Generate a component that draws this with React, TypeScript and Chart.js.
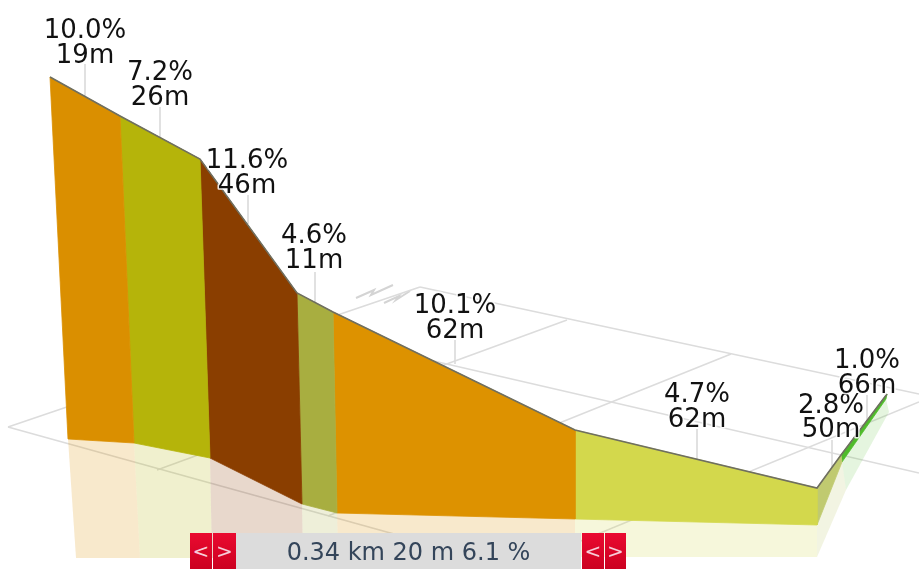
import React, { useEffect, useRef } from 'react';
import { Chart, registerables } from 'chart.js';

Chart.register(...registerables);

const W = 919;
const H = 569;

// Segments of the climb
const grades = ['10.0%', '7.2%', '11.6%', '4.6%', '10.1%', '4.7%', '2.8%', '1.0%'];
const lengths = ['19m', '26m', '46m', '11m', '62m', '62m', '50m', '66m'];
const segColors = ['#DA8F00', '#B5B40A', '#8A3E00', '#A8AE40', '#DD9200', '#D3D84C', '#C0CA70', '#4FBB2B'];
const shadeColors = [
  'rgba(218,143,0,0.2)', 'rgba(181,180,10,0.2)', 'rgba(138,62,0,0.2)', 'rgba(168,174,64,0.2)',
  'rgba(221,146,0,0.2)', 'rgba(211,216,76,0.2)', 'rgba(192,202,112,0.2)', 'rgba(79,187,43,0.15)',
];

// Projected profile (horizontal position, height above the floor of the view)
const topX = [50, 120, 200, 297, 333, 575, 817, 841, 887];
const topH = [492, 453, 410, 276, 257, 139, 81, 114, 175];
const baseX = [68, 134, 210, 302, 337, 575, 817, 842, 886];
const baseH = [130, 126, 111, 65, 56, 50, 44, 107, 170];
// Reflection below the profile
const shadeX = [76, 140, 212, 303, 338, 575, 817, 846, 889];
const shadeH = [11, 11, 11, 11, 11, 12, 12, 79, 157];

// Label anchors
const labelX = [85, 160, 247, 314, 455, 697, 831, 867];
const labelH1 = [531, 489, 401, 326, 256, 167, 156, 201];
const labelH2 = [506, 464, 376, 301, 231, 142, 132, 176];
// Leader lines
const leaderX = [85, 160, 248, 315, 455, 697, 832, 867];
const leaderTop = [505, 462, 374, 297, 229, 140, 129, 174];
const leaderBottom = [473, 432, 345, 267, 205, 109, 102, 146];

// Floor grid lines [x1, h1, x2, h2]
const gridLines = [
  [8, 142, 420, 282],
  [8, 142, 560, -11],
  [157, 99, 567, 249],
  [420, 282, 919, 175],
  [295, 240, 919, 96],
  [328, 53, 731, 215],
  [515, 1, 919, 167],
];
const squiggles = [
  [[356, 271], [374, 279], [371, 274], [393, 284]],
  [[384, 266], [399, 273], [396, 269], [410, 278]],
];

const summaryText = '0.34 km 20 m 6.1 %';

const pt = (x: number, y: number) => ({ x, y });

function buildDatasets() {
  const ds: any[] = [];
  const lineBase = {
    showLine: true,
    pointRadius: 0,
    pointHoverRadius: 0,
    tension: 0,
  };
  gridLines.forEach((g) => {
    ds.push({
      ...lineBase,
      data: [pt(g[0], g[1]), pt(g[2], g[3])],
      borderColor: '#dcdcdc',
      borderWidth: 1.6,
      fill: false,
      order: 10,
    });
  });
  squiggles.forEach((s) => {
    ds.push({
      ...lineBase,
      data: s.map((p) => pt(p[0], p[1])),
      borderColor: '#d4d4d4',
      borderWidth: 2,
      fill: false,
      order: 10,
    });
  });
  leaderX.forEach((x, i) => {
    ds.push({
      ...lineBase,
      data: [pt(x, leaderTop[i]), pt(x, leaderBottom[i])],
      borderColor: '#d8d8d8',
      borderWidth: 1.5,
      fill: false,
      order: 10,
    });
  });
  for (let i = 0; i < segColors.length; i++) {
    ds.push({
      ...lineBase,
      data: [
        pt(baseX[i], baseH[i]),
        pt(baseX[i + 1], baseH[i + 1]),
        pt(shadeX[i + 1], shadeH[i + 1]),
        pt(shadeX[i], shadeH[i]),
      ],
      backgroundColor: shadeColors[i],
      borderColor: 'rgba(0,0,0,0)',
      borderWidth: 0,
      fill: 'shape',
      order: 8,
    });
  }
  for (let i = 0; i < segColors.length; i++) {
    ds.push({
      ...lineBase,
      data: [
        pt(topX[i], topH[i]),
        pt(topX[i + 1], topH[i + 1]),
        pt(baseX[i + 1], baseH[i + 1]),
        pt(baseX[i], baseH[i]),
        pt(topX[i], topH[i]),
      ],
      backgroundColor: segColors[i],
      borderColor: segColors[i],
      borderWidth: 0.8,
      fill: 'shape',
      order: 5,
    });
  }
  ds.push({
    ...lineBase,
    data: topX.map((x, i) => pt(x, topH[i])),
    borderColor: '#6f6f60',
    borderWidth: 1.6,
    fill: false,
    order: 2,
  });
  return ds;
}

const labelPlugin = {
  id: 'segLabels',
  afterDatasetsDraw(chart: any) {
    const { ctx, scales } = chart;
    const xs = scales.x;
    const ys = scales.y;
    ctx.save();
    ctx.font = '26px "DejaVu Sans", Verdana, sans-serif';
    ctx.textAlign = 'center';
    ctx.textBaseline = 'alphabetic';
    ctx.lineJoin = 'round';
    grades.forEach((g, i) => {
      const px = xs.getPixelForValue(labelX[i]);
      const p1 = ys.getPixelForValue(labelH1[i]);
      const p2 = ys.getPixelForValue(labelH2[i]);
      ctx.strokeStyle = 'rgba(255,255,255,0.85)';
      ctx.lineWidth = 3;
      ctx.strokeText(g, px, p1);
      ctx.strokeText(lengths[i], px, p2);
      ctx.fillStyle = '#111111';
      ctx.fillText(g, px, p1);
      ctx.fillText(lengths[i], px, p2);
    });
    ctx.restore();
  },
};

const btnStyle = (left: number, width: number): React.CSSProperties => ({
  position: 'absolute',
  left,
  top: 533,
  width,
  height: 40,
  background: 'linear-gradient(#ea0a30, #c8001f)',
  color: '#f7cdd8',
  fontFamily: '"DejaVu Sans", sans-serif',
  fontSize: 20,
  lineHeight: '36px',
  textAlign: 'center',
  boxSizing: 'border-box',
});

export default function App() {
  const ref = useRef<HTMLCanvasElement | null>(null);
  useEffect(() => {
    document.body.style.margin = '0';
    const canvas = ref.current;
    if (!canvas) return;
    const chart = new Chart(canvas, {
      type: 'scatter',
      data: { datasets: buildDatasets() },
      options: {
        animation: false,
        responsive: false,
        events: [],
        layout: { padding: 0 },
        plugins: { legend: { display: false }, tooltip: { enabled: false } },
        scales: {
          x: { type: 'linear', min: 0, max: W, display: false },
          y: { type: 'linear', min: 0, max: H, display: false },
        },
      },
      plugins: [labelPlugin],
    });
    return () => chart.destroy();
  }, []);
  return (
    <div style={{ position: 'relative', width: W, height: H, overflow: 'hidden', background: '#fff' }}>
      <canvas ref={ref} width={W} height={H} style={{ display: 'block', width: W, height: H }} />
      <div style={btnStyle(190, 22)}>&lt;</div>
      <div style={{ ...btnStyle(213, 23) }}>&gt;</div>
      <div
        style={{
          position: 'absolute',
          left: 236,
          top: 533,
          width: 345,
          height: 40,
          background: '#dcdcdc',
          color: '#34455a',
          fontFamily: '"DejaVu Sans", sans-serif',
          fontSize: 24,
          lineHeight: '38px',
          textAlign: 'center',
          whiteSpace: 'pre',
        }}
      >
        {summaryText}
      </div>
      <div style={btnStyle(582, 22)}>&lt;</div>
      <div style={btnStyle(605, 21)}>&gt;</div>
    </div>
  );
}
